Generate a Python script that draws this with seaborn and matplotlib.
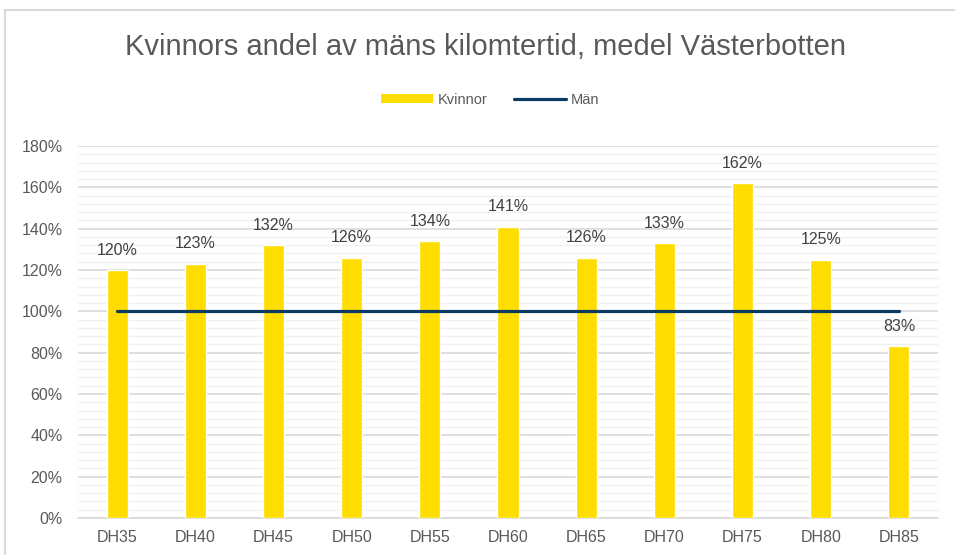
import pandas as pd
import numpy as np
import matplotlib.pyplot as plt
import seaborn as sns
from matplotlib.patches import Patch, Rectangle
from matplotlib.lines import Line2D
from matplotlib.ticker import MultipleLocator, PercentFormatter

categories = ['DH35', 'DH40', 'DH45', 'DH50', 'DH55', 'DH60', 'DH65', 'DH70', 'DH75', 'DH80', 'DH85']
kvinnor = [120, 123, 132, 126, 134, 141, 126, 133, 162, 125, 83]
man = [100, 100, 100, 100, 100, 100, 100, 100, 100, 100, 100]

df = pd.DataFrame({'kategori': categories, 'Kvinnor': kvinnor, 'Män': man})

sns.set_style('white')
plt.rcParams['font.family'] = ['Liberation Sans', 'DejaVu Sans']

yellow = '#FFDD00'
navy = '#0B3A62'
grey_text = '#595959'

fig = plt.figure(figsize=(9.55, 5.55), dpi=100)
ax = fig.add_axes([78 / 955, 1 - 518 / 555, 860 / 955, 372 / 555])

# outer chart frame (top and left visible)
fig.patches.append(Rectangle((5 / 955, -0.1), 1.1, 1 - 10 / 555 + 0.1, transform=fig.transFigure,
                             fill=False, edgecolor='#D9D9D9', linewidth=1.5))

sns.barplot(data=df, x='kategori', y='Kvinnor', color=yellow, width=0.27,
            saturation=1, ax=ax, zorder=3)
ax.plot(np.arange(len(categories)), df['Män'], color=navy, linewidth=2.3, zorder=4)

for i, v in enumerate(kvinnor):
    ax.text(i, v + 6, f'{v}%', ha='center', va='bottom', fontsize=11.5, color='#404040')

ax.set_ylim(0, 180)
ax.set_xlim(-0.5, len(categories) - 0.5)
ax.yaxis.set_major_locator(MultipleLocator(20))
ax.yaxis.set_minor_locator(MultipleLocator(4))
ax.yaxis.set_major_formatter(PercentFormatter(decimals=0))
ax.grid(axis='y', which='major', color='#D9D9D9', linewidth=1.2, zorder=0)
ax.grid(axis='y', which='minor', color='#F0F0F0', linewidth=1.0, zorder=0)
ax.set_axisbelow(True)

for s in ['top', 'right', 'left']:
    ax.spines[s].set_visible(False)
ax.spines['bottom'].set_color('#D9D9D9')
ax.spines['bottom'].set_linewidth(1.2)

ax.set_xticks(np.arange(len(categories)))
ax.set_xticks(np.arange(-0.5, len(categories)), minor=True)
ax.tick_params(axis='x', which='major', length=0, pad=9, labelsize=11.5, labelcolor=grey_text)
ax.tick_params(axis='x', which='minor', length=4, color='#D9D9D9', width=1.2)
ax.tick_params(axis='y', which='both', length=0, pad=11, labelsize=11.5, labelcolor=grey_text)
ax.set_xlabel('')
ax.set_ylabel('')

fig.text(485 / 955, 1 - 47 / 555, 'Kvinnors andel av mäns kilomtertid, medel Västerbotten',
         ha='center', va='center', fontsize=21, color=grey_text)

handles = [Patch(facecolor=yellow, edgecolor='none'),
           Line2D([0], [0], color=navy, linewidth=2.3)]
fig.legend(handles, ['Kvinnor', 'Män'], loc='center', bbox_to_anchor=(490 / 955, 1 - 100 / 555),
           ncol=2, frameon=False, fontsize=10.5, handlelength=3.6, handleheight=0.55,
           handletextpad=0.3, columnspacing=1.8, labelcolor=grey_text)

fig.savefig('out.png', dpi=100)
